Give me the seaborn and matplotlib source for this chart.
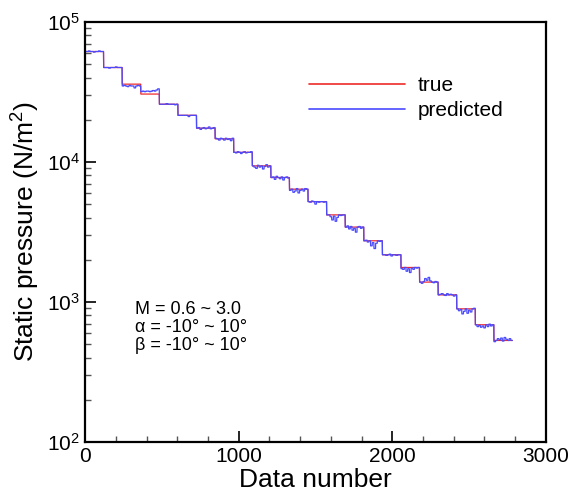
import numpy as np
import pandas as pd
import matplotlib
matplotlib.use("Agg")
import matplotlib.pyplot as plt
import seaborn as sns
from matplotlib.ticker import MultipleLocator

# === DATA ===
# 23 Mach-number blocks, each holding 121 (alpha, beta) samples
samples_per_step = 121
true_levels = [61400, 47200, 35900, 30500, 25800, 21500, 17400, 14600,
               11700, 9360, 7730, 6380, 5200, 4180, 3420, 2730,
               2170, 1760, 1384, 1122, 891, 686, 530]

# predicted deviation from true, percent, 11 sub-blocks per step
pred_dev_pct = [
    [0, 0, 1, 0, 0, -1, 0, 0, 1, 0, 0],
    [0, 0, 0, -1, 0, 0, 0, 1, 0, 0, 0],
    [-3, -2, -3, -4, -2, -3, -3, -6, -3, -2, -3],
    [4, 5, 4, 5, 5, 4, 5, 6, 5, 7, 9],
    [0, 0, 0, 0, 1, 0, 0, 0, 0, -1, 0],
    [0, 0, 0, 0, 0, 0, -2, 0, 0, 0, 0],
    [0, 1, -2, 0, 1, -1, 0, 2, -1, 0, 1],
    [1, 0, -2, 1, 0, -2, 1, -1, 0, -3, 1],
    [0, -1, 1, 0, -2, 0, 1, -1, 0, 0, 1],
    [0, -2, -4, 1, -2, 0, -5, -1, 2, -2, 0],
    [0, 1, -3, 2, 0, -2, 1, -4, 0, 1, -1],
    [-2, 0, -5, -3, 1, -6, -2, 0, -3, 1, 0],
    [0, -1, 1, 0, -4, 0, -1, 0, 0, -1, 0],
    [0, 0, -3, -8, -2, -10, -4, 0, -1, 0, 0],
    [0, 2, -3, 1, -5, -2, -8, 0, 1, -2, 0],
    [0, 1, -2, 0, -8, -3, -12, -4, 0, -1, 0],
    [0, 0, -1, 0, 1, -2, 0, 0, -1, 0, 0],
    [-2, -3, 0, -6, -2, -8, -1, -3, 0, -1, 0],
    [0, -2, 1, 6, 3, 8, 2, 0, -1, 1, 0],
    [0, 1, 2, 0, -1, 2, 0, 1, 0, -2, 0],
    [0, -3, -1, -8, -4, 0, -7, -2, -5, 0, 1],
    [0, -3, -1, -4, -2, -5, 0, -3, 1, -2, 0],
    [-2, 0, 3, 1, 4, -1, 5, 2, 0, 3, 0],
]

# === BUILD LONG-FORM TABLE ===
true_y = np.repeat(true_levels, samples_per_step)
dev = np.repeat(np.array(pred_dev_pct), samples_per_step // 11, axis=1).ravel()
pred_y = true_y * (1 + dev / 100.0)
n = len(true_y)
idx = np.arange(n)

df = pd.DataFrame({
    "Data number": np.concatenate([idx, idx]),
    "Static pressure": np.concatenate([true_y, pred_y]),
    "series": ["true"] * n + ["predicted"] * n,
})

# === PLOT ===
sns.set_theme(style="ticks")
plt.rcParams["font.family"] = ["Liberation Sans", "DejaVu Sans"]
plt.rcParams["mathtext.fontset"] = "custom"
plt.rcParams["mathtext.rm"] = "Liberation Sans"
plt.rcParams["mathtext.it"] = "Liberation Sans:italic"
plt.rcParams["xtick.direction"] = "in"
plt.rcParams["ytick.direction"] = "in"
for key in ["text.color", "axes.labelcolor", "xtick.color", "ytick.color"]:
    plt.rcParams[key] = "black"

fig = plt.figure(figsize=(5.71, 4.97), dpi=100)
ax = fig.add_axes([0.149, 0.111, 0.807, 0.845])

sns.lineplot(data=df, x="Data number", y="Static pressure", hue="series",
             hue_order=["true", "predicted"],
             palette={"true": "#ee2a2a", "predicted": "#4a4aff"},
             estimator=None, sort=False, linewidth=0.9, ax=ax)

ax.set_yscale("log")
ax.set_xlim(0, 3000)
ax.set_ylim(1e2, 1e5)
ax.xaxis.set_major_locator(MultipleLocator(1000))
ax.xaxis.set_minor_locator(MultipleLocator(200))

ax.tick_params(axis="both", which="major", length=8, width=1.2, labelsize=15, color="black")
ax.tick_params(axis="both", which="minor", length=4.5, width=1.0, color="#555555")
for s in ax.spines.values():
    s.set_linewidth(1.6)
    s.set_color("black")

ax.set_xlabel("Data number", fontsize=19, labelpad=2)
ax.set_ylabel("Static pressure (N/m$^2$)", fontsize=19, labelpad=4)

ax.text(0.108, 0.315, "M = 0.6 ~ 3.0", transform=ax.transAxes, fontsize=13, va="center")
ax.text(0.108, 0.272, "\u03b1 = -10\u00b0 ~ 10\u00b0", transform=ax.transAxes, fontsize=13, va="center")
ax.text(0.108, 0.229, "\u03b2 = -10\u00b0 ~ 10\u00b0", transform=ax.transAxes, fontsize=13, va="center")

leg = ax.legend(loc="upper left", bbox_to_anchor=(0.486, 0.871), frameon=False,
                fontsize=15, handlelength=4.6, handletextpad=0.6,
                borderpad=0, borderaxespad=0, labelspacing=0.3)
for line in leg.get_lines():
    line.set_linewidth(1.2)

fig.savefig("out.png", dpi=100)
